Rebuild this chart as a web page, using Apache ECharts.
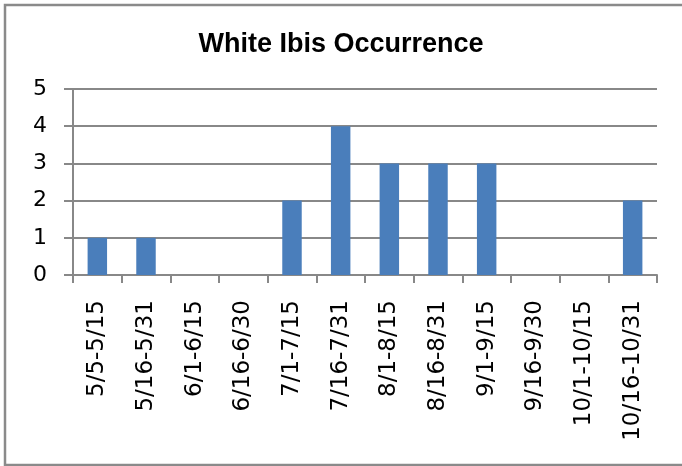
<!DOCTYPE html>
<html>
<head>
<meta charset="utf-8">
<script src="https://cdn.jsdelivr.net/npm/echarts@6/dist/echarts.min.js"></script>
<style>
  html, body { margin: 0; padding: 0; background: #fff; }
  #main { width: 682px; height: 466px; }
</style>
</head>
<body>
<div id="main"></div>
<script>
var categories = ['5/5-5/15', '5/16-5/31', '6/1-6/15', '6/16-6/30', '7/1-7/15', '7/16-7/31',
                  '8/1-8/15', '8/16-8/31', '9/1-9/15', '9/16-9/30', '10/1-10/15', '10/16-10/31']
var occurrence = [1, 1, 0, 0, 2, 4, 3, 3, 3, 0, 0, 2]
var yTicks = [0, 1, 2, 3, 4, 5]

var chart = echarts.init(document.getElementById('main'))
chart.setOption({
    animation: false,
    backgroundColor: '#fff',
    title: {
        text: 'White Ibis Occurrence',
        left: 'center',
        top: 26,
        textStyle: {
            fontFamily: 'Liberation Sans',
            fontWeight: 'bold',
            fontSize: 27,
            color: '#000'
        }
    },
    graphic: [{
        type: 'rect',
        shape: { x: 5, y: 5, width: 700, height: 460 },
        style: { fill: 'none', stroke: '#8a8a8a', lineWidth: 2.5 },
        silent: true
    }],
    grid: { left: 73, right: 25, top: 89, bottom: 191, containLabel: false },
    xAxis: {
        type: 'category',
        data: categories,
        axisLine: { lineStyle: { color: '#888', width: 2 } },
        axisTick: { show: true, length: 8, lineStyle: { color: '#888', width: 2 } },
        axisLabel: {
            rotate: 90,
            interval: 0,
            margin: 25,
            fontFamily: 'DejaVu Sans',
            fontSize: 23,
            color: '#000'
        }
    },
    yAxis: {
        type: 'value',
        min: yTicks[0],
        max: yTicks[yTicks.length - 1],
        interval: 1,
        axisLine: { show: true, lineStyle: { color: '#888', width: 2 } },
        axisTick: { show: true, length: 9, lineStyle: { color: '#888', width: 2 } },
        splitLine: { lineStyle: { color: '#888', width: 2 } },
        axisLabel: {
            margin: 26,
            fontFamily: 'DejaVu Sans',
            fontSize: 22,
            color: '#000'
        }
    },
    series: [{
        type: 'bar',
        data: occurrence,
        barWidth: '40%',
        itemStyle: { color: '#4a7ebb' }
    }]
})
</script>
</body>
</html>
